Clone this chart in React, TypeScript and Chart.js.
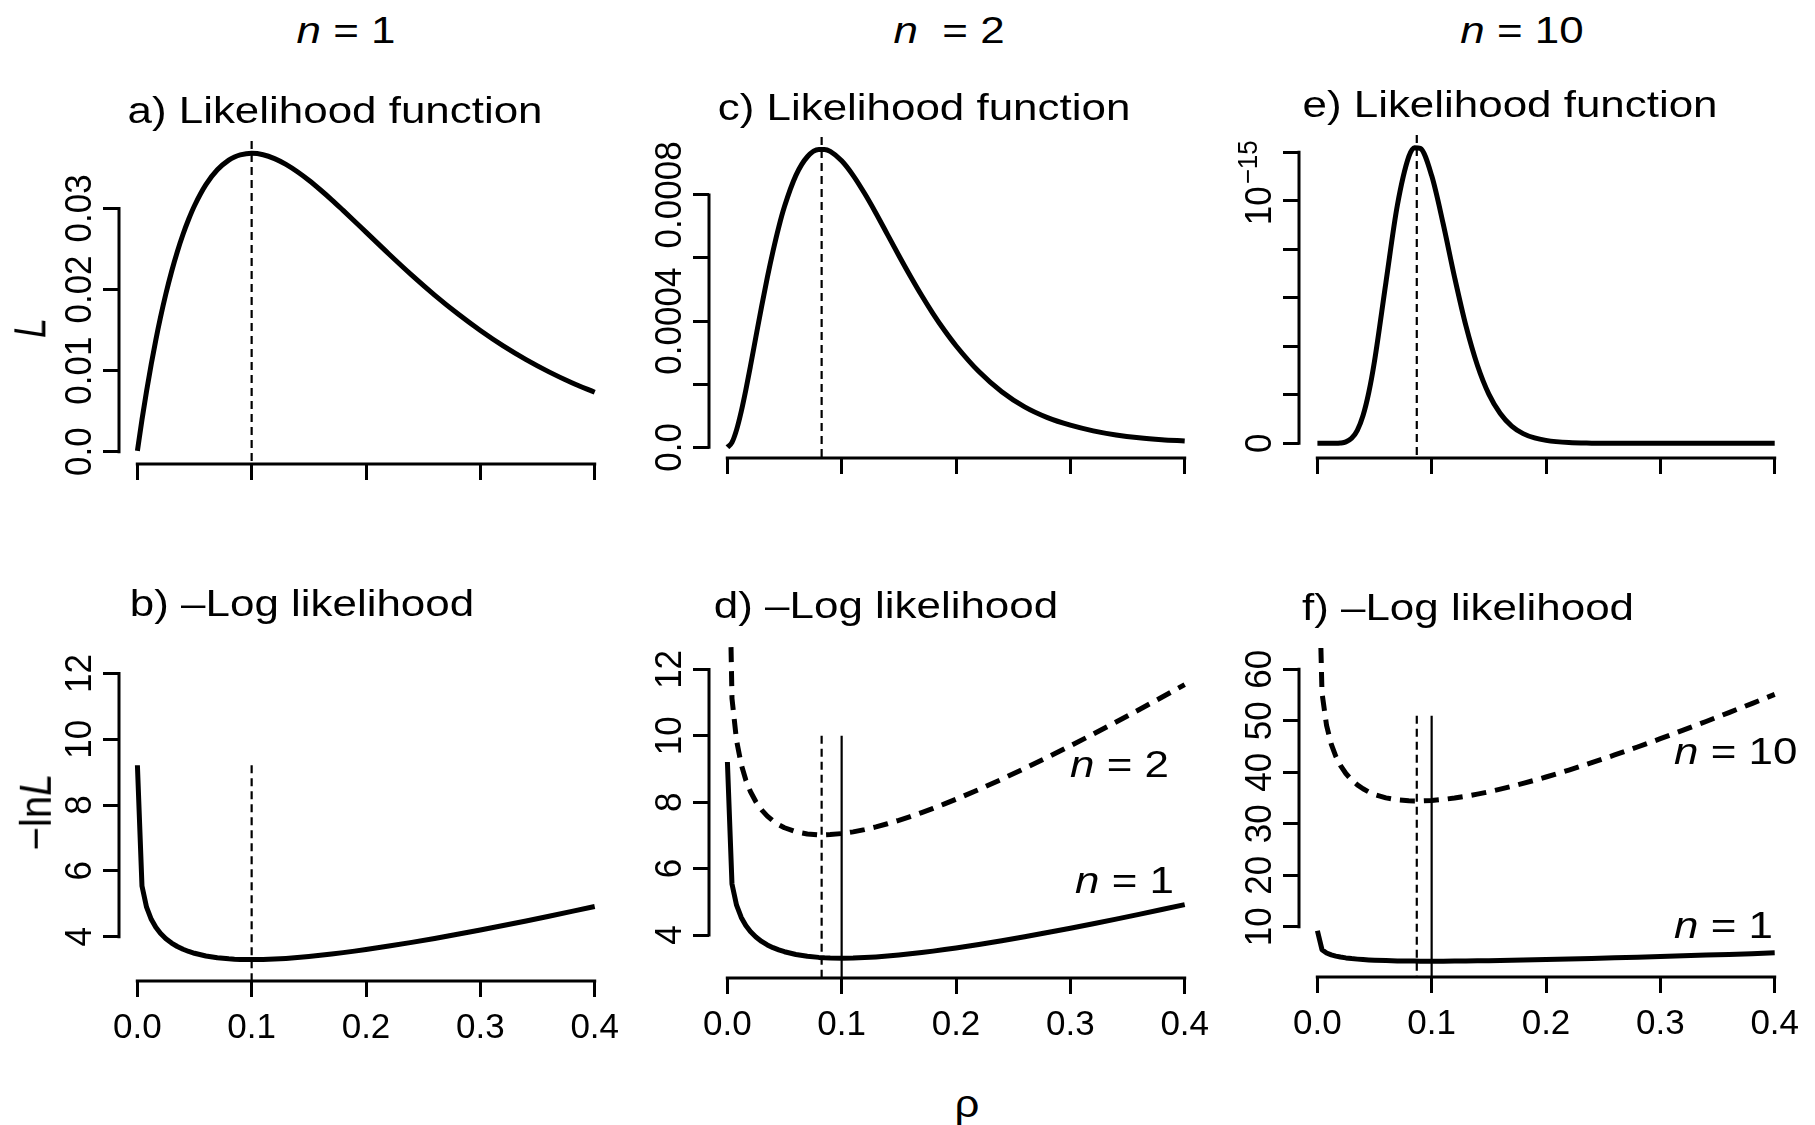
import React, { useEffect, useRef } from 'react';
import Chart from 'chart.js/auto';

const FONT = '"Liberation Sans", Arial, Helvetica, sans-serif';
const INK = '#000';
Chart.defaults.font.family = FONT;

// ---------------- data ----------------
// shared grid of rho values
const RHO = [0.0001, 0.0041, 0.0081, 0.0122, 0.0162, 0.0202, 0.025, 0.03, 0.035, 0.04, 0.045, 0.05,
  0.06, 0.07, 0.08, 0.085, 0.09, 0.10, 0.11, 0.12, 0.13, 0.14, 0.15, 0.16, 0.17, 0.18, 0.19, 0.20,
  0.22, 0.24, 0.26, 0.28, 0.30, 0.32, 0.34, 0.36, 0.38, 0.40];

// a) likelihood, n = 1
const L_N1 = [0.0001, 0.00394, 0.00747, 0.0108, 0.01378, 0.01651, 0.01947, 0.02222, 0.02466, 0.02681, 0.02869, 0.03033,
  0.03293, 0.03476, 0.03595, 0.03633, 0.03659, 0.03679, 0.03662, 0.03614, 0.03543, 0.03452, 0.03347, 0.0323, 0.03106, 0.02975, 0.02842, 0.02707,
  0.02438, 0.02177, 0.01931, 0.01703, 0.01494, 0.01304, 0.01135, 0.00984, 0.0085, 0.00733];

// c) likelihood, n = 2
const L_N2 = [0, 0.0000156, 0.0000553, 0.0001135, 0.0001817, 0.0002565, 0.00035, 0.000446, 0.000538, 0.000622, 0.000698, 0.000763,
  0.000862, 0.000921, 0.000944, 0.000944, 0.000938, 0.000908, 0.000862, 0.000805, 0.000742, 0.000675, 0.000608, 0.000543, 0.000481, 0.000423, 0.00037, 0.000322,
  0.00024, 0.000176, 0.000128, 0.000094, 0.00007, 0.000052, 0.000039, 0.00003, 0.000024, 0.00002];

// e) likelihood, n = 10
const L_N10 = [0, 0, 0, 0, 0, 1.2e-18, 5.8e-18, 2.04e-17, 5.35e-17, 1.145e-16, 2.09e-16, 3.38e-16,
  6.63e-16, 9.81e-16, 1.182e-15, 1.219e-15, 1.216e-15, 1.104e-15, 9.07e-16, 6.86e-16, 4.84e-16, 3.22e-16, 2.03e-16, 1.23e-16, 7.1e-17, 4.0e-17, 2.2e-17, 1.2e-17,
  3e-18, 7e-19, 0, 0, 0, 0, 0, 0, 0, 0];

// -ln L, n = 1 (panels b, d, f)
const NLL_N1 = [9.211, 5.538, 4.897, 4.528, 4.285, 4.104, 3.939, 3.807, 3.702, 3.619, 3.551, 3.496,
  3.413, 3.359, 3.326, 3.315, 3.308, 3.303, 3.307, 3.32, 3.34, 3.366, 3.397, 3.433, 3.472, 3.515, 3.561, 3.609,
  3.714, 3.827, 3.947, 4.073, 4.204, 4.339, 4.479, 4.622, 4.768, 4.916];

// -ln L, n = 2 (panel d, dashed)
const NLL_N2 = [18.453, 11.123, 9.858, 9.138, 8.667, 8.323, 8.013, 7.769, 7.582, 7.436, 7.321, 7.231,
  7.109, 7.043, 7.017, 7.017, 7.024, 7.055, 7.107, 7.175, 7.256, 7.35, 7.454, 7.567, 7.688, 7.816, 7.949, 8.089,
  8.382, 8.692, 9.016, 9.352, 9.698, 10.053, 10.416, 10.785, 11.161, 11.543];

// -ln L, n = 10 (panel f, dashed)
const NLL_N10 = [92.11, 55.44, 49.09, 45.47, 43.09, 41.34, 39.76, 38.51, 37.55, 36.79, 36.18, 35.7,
  35.03, 34.64, 34.45, 34.42, 34.42, 34.52, 34.72, 35.0, 35.34, 35.75, 36.21, 36.72, 37.26, 37.84, 38.45, 39.08,
  40.43, 41.86, 43.36, 44.91, 46.52, 48.18, 49.87, 51.6, 53.35, 55.14];

// maximum-likelihood estimates (vertical reference lines)
const MLE_N1 = 0.1;
const MLE_N2 = 0.0825;
const MLE_N10 = 0.087;
const VLINE_TOP_B = 9.21;
const VLINE_TOP_D = 10.0;
const VLINE_TOP_F = 51;

// axes
const X_TICKS = [0, 0.1, 0.2, 0.3, 0.4];
const X_RANGE = [-0.016, 0.416];

const A_YTICKS = [0, 0.01, 0.02, 0.03];
const A_YLABELS = ['0.0', '0.01', '0.02', '0.03'];
const A_YRANGE = [-0.00152, 0.03831];

const C_YTICKS = [0, 0.0002, 0.0004, 0.0006, 0.0008];
const C_YLABELS = ['0.0', '', '0.0004', '', '0.0008'];
const C_YRANGE = [-0.0000339, 0.0009835];

const E_YTICKS = [0, 2e-16, 4e-16, 6e-16, 8e-16, 1e-15, 1.2e-15];
const E_YLABELS = ['0', '', '', '', '', '10^\u221215', ''];
const E_YRANGE = [-6.06e-17, 1.2714e-15];

const B_YTICKS = [4, 6, 8, 10, 12];
const B_YLABELS = ['4', '6', '8', '10', '12'];
const B_YRANGE = [2.653, 12.775];
const D_YRANGE = [2.705, 12.765];

const F_YTICKS = [10, 20, 30, 40, 50, 60];
const F_YLABELS = ['10', '20', '30', '40', '50', '60'];
const F_YRANGE = [0.229, 64.53];

// ---------------- helpers ----------------
const pts = (ys: number[]) => RHO.map((x, i) => ({ x, y: ys[i] }));

const curve = (ys: number[], extra: any = {}) => ({
  data: pts(ys),
  borderColor: INK,
  borderWidth: 5,
  pointRadius: 0,
  fill: false,
  tension: 0,
  borderJoinStyle: 'round',
  borderCapStyle: 'butt',
  ...extra,
});

const vline = (x: number, yTop: number, yBottom: number, dashed: boolean) => ({
  data: [{ x, y: yTop }, { x, y: yBottom }],
  borderColor: INK,
  borderWidth: 2.2,
  pointRadius: 0,
  fill: false,
  tension: 0,
  borderDash: dashed ? [8, 5] : [],
});

const DASHED_CURVE = { borderDash: [15, 9] };
const SMOOTH = { cubicInterpolationMode: 'monotone' };

const TICK_FONT_SIZE = 35;

const rAxisPlugin = {
  id: 'rAxis',
  afterDraw(chart: any, _args: any, opts: any) {
    const { ctx, chartArea: ca, scales } = chart;
    const xs = scales.x;
    const ys = scales.y;
    const xt = xs.ticks.map((t: any) => t.value);
    const yt = ys.ticks.map((t: any) => t.value);
    ctx.save();
    ctx.strokeStyle = INK;
    ctx.lineWidth = 3;
    ctx.lineCap = 'square';
    ctx.beginPath();
    ctx.moveTo(xs.getPixelForValue(xt[0]), ca.bottom);
    ctx.lineTo(xs.getPixelForValue(xt[xt.length - 1]), ca.bottom);
    ctx.moveTo(ca.left, ys.getPixelForValue(yt[0]));
    ctx.lineTo(ca.left, ys.getPixelForValue(yt[yt.length - 1]));
    ctx.stroke();

    ctx.fillStyle = INK;
    ctx.textBaseline = 'alphabetic';
    const labels: string[] = (opts && opts.labels) || [];
    yt.forEach((v: number, i: number) => {
      const s = labels[i];
      if (!s) return;
      const py = ys.getPixelForValue(v);
      ctx.save();
      ctx.translate(ca.left - 28, py);
      ctx.rotate(-Math.PI / 2);
      ctx.scale(1, 1.06);
      const parts = s.split('^');
      ctx.font = `${TICK_FONT_SIZE}px ${FONT}`;
      if (parts.length > 1) {
        const wb = ctx.measureText(parts[0]).width;
        ctx.textAlign = 'center';
        ctx.fillText(parts[0], -5, 0);
        ctx.font = `26px ${FONT}`;
        ctx.textAlign = 'left';
        ctx.fillText(parts[1], -5 + wb / 2 + 2, -13);
      } else {
        ctx.textAlign = 'center';
        ctx.fillText(parts[0], 0, 0);
      }
      ctx.restore();
    });
    ctx.restore();
  },
};

type Spec = {
  key: string;
  box: { left: number; top: number; right: number; bottom: number };
  yRange: number[];
  yTicks: number[];
  yLabels: string[];
  xLabels: boolean;
  makeDatasets: () => any[];
};

const Y_AXIS_W = 80;
const PAD_TOP = 30;
const PAD_RIGHT = 21;
const X_AXIS_H = 70;

const PANELS: Spec[] = [
  {
    key: 'a', box: { left: 119, top: 141, right: 613, bottom: 464 },
    yRange: A_YRANGE, yTicks: A_YTICKS, yLabels: A_YLABELS, xLabels: false,
    makeDatasets: () => [curve(L_N1, SMOOTH), vline(MLE_N1, A_YRANGE[1], A_YRANGE[0], true)],
  },
  {
    key: 'c', box: { left: 709, top: 137, right: 1203, bottom: 458 },
    yRange: C_YRANGE, yTicks: C_YTICKS, yLabels: C_YLABELS, xLabels: false,
    makeDatasets: () => [curve(L_N2, SMOOTH), vline(MLE_N2, C_YRANGE[1], C_YRANGE[0], true)],
  },
  {
    key: 'e', box: { left: 1299, top: 135, right: 1793, bottom: 458 },
    yRange: E_YRANGE, yTicks: E_YTICKS, yLabels: E_YLABELS, xLabels: false,
    makeDatasets: () => [curve(L_N10, SMOOTH), vline(MLE_N10, E_YRANGE[1], E_YRANGE[0], true)],
  },
  {
    key: 'b', box: { left: 119, top: 648, right: 613, bottom: 981 },
    yRange: B_YRANGE, yTicks: B_YTICKS, yLabels: B_YLABELS, xLabels: true,
    makeDatasets: () => [curve(NLL_N1), vline(MLE_N1, VLINE_TOP_B, B_YRANGE[0], true)],
  },
  {
    key: 'd', box: { left: 709, top: 644, right: 1203, bottom: 978 },
    yRange: D_YRANGE, yTicks: B_YTICKS, yLabels: B_YLABELS, xLabels: true,
    makeDatasets: () => [
      curve(NLL_N1),
      curve(NLL_N2, DASHED_CURVE),
      vline(MLE_N2, VLINE_TOP_D, D_YRANGE[0], true),
      vline(MLE_N1, VLINE_TOP_D, D_YRANGE[0], false),
    ],
  },
  {
    key: 'f', box: { left: 1299, top: 646, right: 1793, bottom: 977 },
    yRange: F_YRANGE, yTicks: F_YTICKS, yLabels: F_YLABELS, xLabels: true,
    makeDatasets: () => [
      curve(NLL_N1),
      curve(NLL_N10, DASHED_CURVE),
      vline(MLE_N10, VLINE_TOP_F, F_YRANGE[0], true),
      vline(MLE_N1, VLINE_TOP_F, F_YRANGE[0], false),
    ],
  },
];

const gridOpts = { drawOnChartArea: false, drawTicks: true, tickLength: 16, color: INK, lineWidth: 3 };

function ChartPanel({ spec }: { spec: Spec }) {
  const ref = useRef<HTMLCanvasElement | null>(null);
  const { left, top, right, bottom } = spec.box;
  const w = Y_AXIS_W + (right - left) + PAD_RIGHT;
  const h = PAD_TOP + (bottom - top) + X_AXIS_H;

  useEffect(() => {
    if (!ref.current) return;
    const chart = new Chart(ref.current, {
      type: 'line',
      data: { datasets: spec.makeDatasets() },
      options: {
        responsive: false,
        animation: false,
        devicePixelRatio: 1,
        events: [],
        layout: { padding: { left: 0, top: PAD_TOP, right: PAD_RIGHT, bottom: 0 } },
        plugins: {
          legend: { display: false },
          tooltip: { enabled: false },
          rAxis: { labels: spec.yLabels },
        },
        scales: {
          x: {
            type: 'linear',
            bounds: 'data',
            min: X_RANGE[0],
            max: X_RANGE[1],
            afterBuildTicks: (s: any) => { s.ticks = X_TICKS.map((v) => ({ value: v })); },
            afterFit: (s: any) => { s.height = X_AXIS_H; },
            border: { display: false },
            grid: gridOpts,
            ticks: {
              display: spec.xLabels,
              autoSkip: false,
              maxRotation: 0,
              minRotation: 0,
              padding: 10,
              color: INK,
              font: { family: FONT, size: TICK_FONT_SIZE },
              callback: (v: any) => Number(v).toFixed(1),
            },
          },
          y: {
            type: 'linear',
            bounds: 'data',
            min: spec.yRange[0],
            max: spec.yRange[1],
            afterBuildTicks: (s: any) => { s.ticks = spec.yTicks.map((v) => ({ value: v })); },
            afterFit: (s: any) => { s.width = Y_AXIS_W; },
            border: { display: false },
            grid: gridOpts,
            ticks: { display: false },
          },
        },
      } as any,
      plugins: [rAxisPlugin],
    } as any);
    return () => chart.destroy();
  }, []);

  return (
    <canvas
      ref={ref}
      width={w}
      height={h}
      style={{ position: 'absolute', left: left - Y_AXIS_W, top: top - PAD_TOP, width: w, height: h }}
    />
  );
}

function Txt({ x, y, size = 36, anchor = 'middle', stretch = 1.22, rotate = false, children }: any) {
  const base: React.CSSProperties = {
    position: 'absolute',
    left: x,
    fontSize: size,
    lineHeight: `${size}px`,
    fontFamily: FONT,
    color: INK,
    whiteSpace: 'pre',
  };
  if (rotate) {
    return (
      <div style={{ ...base, top: y - size / 2, transform: `translateX(-50%) scaleX(${stretch}) rotate(-90deg)` }}>
        {children}
      </div>
    );
  }
  const top = y - size * 0.8465;
  if (anchor === 'start') {
    return <div style={{ ...base, top, transformOrigin: '0 50%', transform: `scaleX(${stretch})` }}>{children}</div>;
  }
  return <div style={{ ...base, top, transform: `translateX(-50%) scaleX(${stretch})` }}>{children}</div>;
}

export default function App() {
  return (
    <div style={{ position: 'absolute', left: 0, top: 0, width: 1815, height: 1125, background: '#fff', overflow: 'hidden' }}>
      {PANELS.map((p) => <ChartPanel key={p.key} spec={p} />)}

      <Txt x={346} y={43}><i>n</i>{' = 1'}</Txt>
      <Txt x={949} y={43}><i>n</i>{'  = 2'}</Txt>
      <Txt x={1522} y={43}><i>n</i>{' = 10'}</Txt>

      <Txt x={335} y={123}>a) Likelihood function</Txt>
      <Txt x={924} y={120}>c) Likelihood function</Txt>
      <Txt x={1510} y={117}>e) Likelihood function</Txt>
      <Txt x={302} y={616}>b) –Log likelihood</Txt>
      <Txt x={886} y={618}>d) –Log likelihood</Txt>
      <Txt x={1468} y={620}>f) –Log likelihood</Txt>

      <Txt x={31} y={328} rotate size={36}><i>L</i></Txt>
      <Txt x={35} y={812} rotate size={40} stretch={1.1}>−ln<i>L</i></Txt>
      <Txt x={967} y={1117} size={38} stretch={1.15}>ρ</Txt>

      <Txt x={1070} y={777} anchor="start"><i>n</i>{' = 2'}</Txt>
      <Txt x={1075} y={893} anchor="start"><i>n</i>{' = 1'}</Txt>
      <Txt x={1674} y={764} anchor="start"><i>n</i>{' = 10'}</Txt>
      <Txt x={1674} y={938} anchor="start"><i>n</i>{' = 1'}</Txt>
    </div>
  );
}
